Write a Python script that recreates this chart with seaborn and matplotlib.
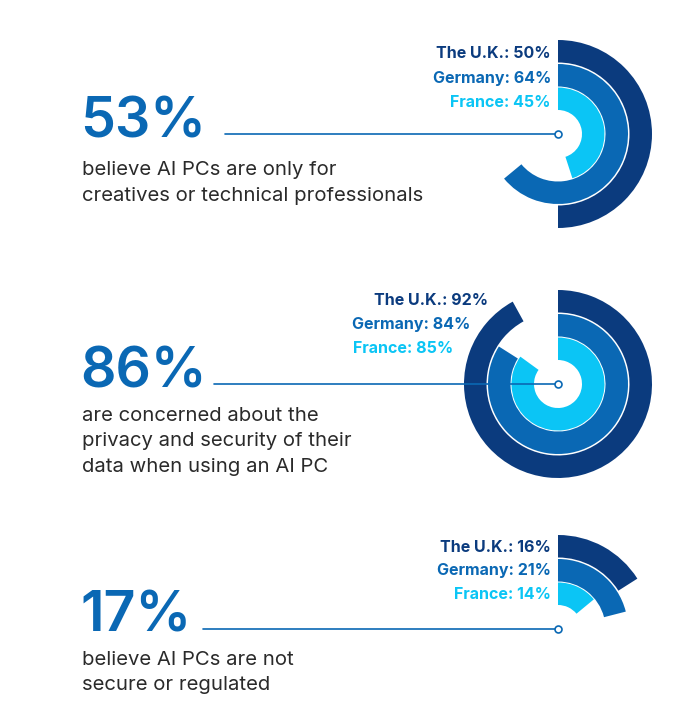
import numpy as np
import pandas as pd
import seaborn as sns
import matplotlib.pyplot as plt

# Survey values (percent) per question and country
countries = ['The U.K.', 'Germany', 'France']
q1_values = [50, 64, 45]
q2_values = [92, 84, 85]
q3_values = [16, 21, 14]
headline = ['53%', '86%', '17%']
captions = [
    ['believe AI PCs are only for', 'creatives or technical professionals'],
    ['are concerned about the', 'privacy and security of their', 'data when using an AI PC'],
    ['believe AI PCs are not', 'secure or regulated'],
]

df = pd.DataFrame({'country': countries * 3,
                   'question': [0] * 3 + [1] * 3 + [2] * 3,
                   'value': q1_values + q2_values + q3_values})

sns.set_theme(style='white')
plt.rcParams['font.family'] = ['Inter', 'DejaVu Sans']

palette = dict(zip(countries, ['#0B3B7E', '#0A68B4', '#0BC5F5']))
blue = '#0A68B4'
text_dark = '#2A2A2A'

# Layout in figure pixels (690 x 711)
W, H = 690, 711
cx = 558
centers_y = [134, 384, 629]
line_start = [225, 214, 203]
r_outer = 96
ring_bottom = {'France': 24, 'Germany': 47.5, 'The U.K.': 71.5}
ring_height = 22.5
label_right = [[551, 551, 551], [488, 470, 453], [551, 551, 551]]
label_base = [[58, 83, 107], [305, 329, 353], [552, 575, 599]]
big_base = [137, 387, 632]
cap_base = [[175, 201], [421, 446, 472], [665, 690]]

fig = plt.figure(figsize=(W / 100, H / 100), dpi=100)

for q, cy in enumerate(centers_y):
    ax = fig.add_axes([(cx - r_outer) / W, (H - cy - r_outer) / H,
                       2 * r_outer / W, 2 * r_outer / H], projection='polar')
    ax.set_theta_zero_location('N')
    ax.set_theta_direction(-1)
    ax.set_ylim(0, r_outer)
    sub = df[df['question'] == q]
    for _, row in sub.iterrows():
        span = row['value'] / 100 * 2 * np.pi
        ax.bar(0, ring_height, width=span, bottom=ring_bottom[row['country']],
               align='edge', color=palette[row['country']], linewidth=0)
    ax.set_axis_off()

# overlay for text and connector lines
ov = fig.add_axes([0, 0, 1, 1])
ov.set_xlim(0, W)
ov.set_ylim(H, 0)
ov.set_axis_off()

for q, cy in enumerate(centers_y):
    ov.plot([line_start[q], cx], [cy, cy], color=blue, lw=1.2, zorder=3)
    ov.plot([cx], [cy], marker='o', ms=5, mfc='white', mec=blue, mew=1.2, zorder=4)
    ov.text(80, big_base[q], headline[q], fontsize=40, fontweight='semibold',
            color=blue, va='baseline', ha='left')
    for i, line in enumerate(captions[q]):
        ov.text(82, cap_base[q][i], line, fontsize=14.6, fontweight='normal',
                color=text_dark, va='baseline', ha='left')
    vals = df[df['question'] == q]['value'].tolist()
    for i, c in enumerate(countries):
        ov.text(label_right[q][i], label_base[q][i], f'{c}: {vals[i]}%',
                fontsize=11.5, fontweight='bold', color=palette[c],
                va='baseline', ha='right')

fig.savefig('out.png', dpi=100)
